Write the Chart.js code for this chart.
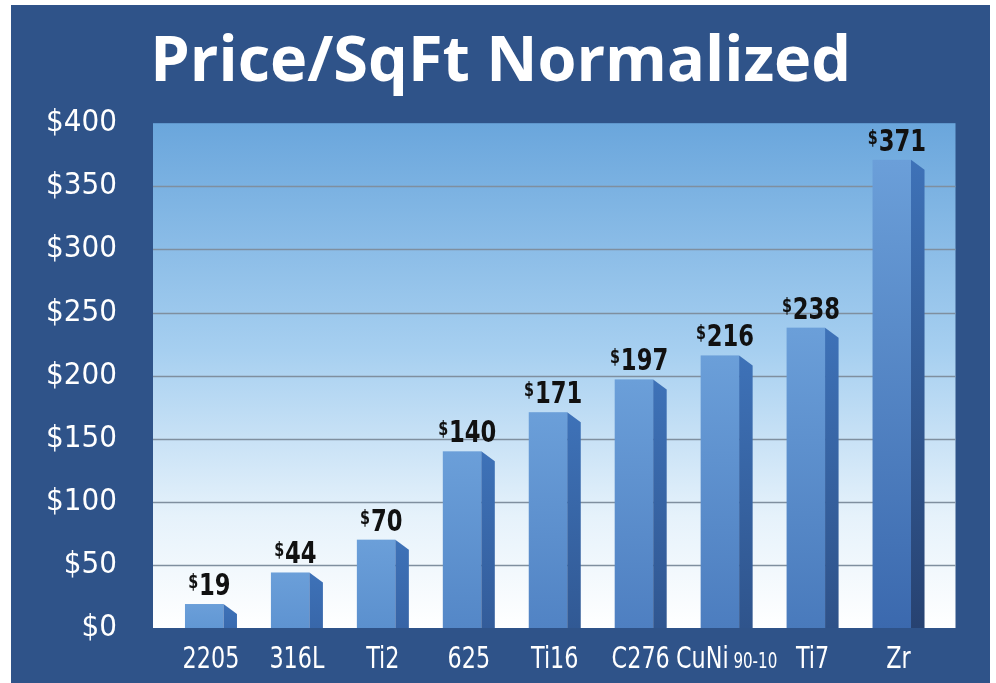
<!DOCTYPE html>
<html>
<head>
<meta charset="utf-8">
<script src="https://cdn.jsdelivr.net/npm/chart.js@4.4.0/dist/chart.umd.min.js"></script>
<style>
  html, body { margin: 0; padding: 0; background: #ffffff; }
</style>
</head>
<body>
<canvas id="priceChart" width="996" height="683"></canvas>
<script>
var materials = ["2205", "316L", "Ti2", "625", "Ti16", "C276", "CuNi 90-10", "Ti7", "Zr"];
var pricePerSqFt = [19, 44, 70, 140, 171, 197, 216, 238, 371];
var yTicks = [0, 50, 100, 150, 200, 250, 300, 350, 400];

var NARROW = "'Liberation Sans Narrow', 'DejaVu Sans Condensed', sans-serif";

function mix(a, b, t) {
  var c = a.map(function (v, i) { return Math.round(v + (b[i] - v) * t); });
  return "rgb(" + c.join(",") + ")";
}

// dark blue frame + light blue plot panel with grid lines
var backdrop = {
  id: "backdrop",
  afterLayout: function (chart) {
    // keep the title centred on the frame, not on the padded box
    var tb = chart.titleBlock;
    tb.left = 60;
    tb.width = tb.right - tb.left;
  },
  beforeDraw: function (chart) {
    var ctx = chart.ctx, area = chart.chartArea, y = chart.scales.y;
    ctx.save();
    ctx.fillStyle = "#ffffff";
    ctx.fillRect(0, 0, chart.width, chart.height);
    ctx.fillStyle = "#2f5389";
    ctx.fillRect(11, 5, 979, chart.height - 5);

    var left = area.left - 15, right = area.right + 14;
    var g = ctx.createLinearGradient(0, area.top, 0, area.bottom);
    g.addColorStop(0, "#6aa6dc");
    g.addColorStop(0.45, "#a6cff0");
    g.addColorStop(0.78, "#e6f2fb");
    g.addColorStop(1, "#ffffff");
    ctx.fillStyle = g;
    ctx.fillRect(left, area.top, right - left, area.bottom - area.top);

    ctx.strokeStyle = "#7f8f9f";
    ctx.lineWidth = 1.5;
    yTicks.forEach(function (v) {
      if (v === 0 || v === 400) return;
      var py = Math.round(y.getPixelForValue(v)) + 0.5;
      ctx.beginPath();
      ctx.moveTo(left, py);
      ctx.lineTo(right, py);
      ctx.stroke();
    });
    ctx.restore();
  }
};

// 3D-looking bars, value labels and category labels
var bars3d = {
  id: "bars3d",
  afterDatasetsDraw: function (chart) {
    var ctx = chart.ctx, area = chart.chartArea;
    var meta = chart.getDatasetMeta(0);
    ctx.save();
    meta.data.forEach(function (el, i) {
      var w = el.width, left = el.x - w / 2;
      var front = w * 0.74, fr = left + front, sr = left + w;
      var top = el.y, base = el.base;
      var t = (base - top) / (area.bottom - area.top);

      var gf = ctx.createLinearGradient(0, top, 0, base);
      gf.addColorStop(0, "#6b9fd9");
      gf.addColorStop(1, mix([99, 153, 214], [56, 101, 171], t));
      ctx.fillStyle = gf;
      ctx.fillRect(left, top, front, base - top);

      var gs = ctx.createLinearGradient(0, top, 0, base);
      gs.addColorStop(0, "#3e72b8");
      gs.addColorStop(1, mix([58, 108, 178], [38, 63, 108], t));
      ctx.fillStyle = gs;
      ctx.beginPath();
      ctx.moveTo(fr, top);
      ctx.lineTo(sr, top + 10);
      ctx.lineTo(sr, base);
      ctx.lineTo(fr, base);
      ctx.closePath();
      ctx.fill();

      ctx.textBaseline = "alphabetic";
      ctx.textAlign = "left";

      // value label with small superscript dollar sign, condensed
      var num = String(pricePerSqFt[i]);
      var vs = 0.84;
      ctx.font = "bold 19px " + NARROW;
      var wd = ctx.measureText("$").width * vs;
      ctx.font = "bold 30px " + NARROW;
      var wn = ctx.measureText(num).width * vs;
      ctx.save();
      ctx.translate(el.x - (wd + wn) / 2 - 2, top - 9);
      ctx.scale(vs, 1);
      ctx.fillStyle = "#111111";
      ctx.fillText(num, wd / vs + 1, 0);
      ctx.font = "bold 19px " + NARROW;
      ctx.fillText("$", 0, -7);
      ctx.restore();

      // category label, squeezed horizontally to look condensed
      var parts = materials[i].split(" ");
      var sq = 0.8;
      ctx.font = "31px " + NARROW;
      var w1 = ctx.measureText(parts[0]).width * sq, w2 = 0;
      if (parts[1]) {
        ctx.font = "21px " + NARROW;
        w2 = ctx.measureText(" " + parts[1]).width * sq;
      }
      ctx.save();
      ctx.translate(el.x - (w1 + w2) / 2, area.bottom + 40);
      ctx.scale(sq, 1);
      ctx.fillStyle = "#ffffff";
      ctx.font = "31px " + NARROW;
      ctx.fillText(parts[0], 0, 0);
      if (parts[1]) {
        ctx.font = "21px " + NARROW;
        ctx.fillText(" " + parts[1], w1 / sq, 0);
      }
      ctx.restore();
    });
    ctx.restore();
  }
};

new Chart(document.getElementById("priceChart"), {
  type: "bar",
  data: {
    labels: materials,
    datasets: [
      {
        label: "Price/SqFt",
        data: pricePerSqFt,
        backgroundColor: "rgba(0,0,0,0)",
        barPercentage: 0.605,
        categoryPercentage: 1,
      },
    ],
  },
  options: {
    responsive: false,
    animation: false,
    layout: {
      padding: { left: 40, right: 54.5, top: 0, bottom: 0 },
    },
    plugins: {
      legend: { display: false },
      tooltip: { enabled: false },
      title: {
        display: true,
        text: "Price/SqFt Normalized",
        color: "#ffffff",
        font: { family: "'Open Sans', sans-serif", size: 63, weight: "bold", lineHeight: 1.2 },
        padding: { top: 25, bottom: 22.6 },
      },
    },
    scales: {
      x: {
        grid: { display: false },
        border: { display: false },
        ticks: { display: false },
        afterFit: function (scale) { scale.height = 55; },
      },
      y: {
        min: 0,
        max: 400,
        grid: { display: false, drawTicks: false },
        border: { display: false },
        afterFit: function (scale) { scale.width = 128; },
        afterBuildTicks: function (scale) {
          scale.ticks = yTicks.map(function (v) { return { value: v }; });
        },
        ticks: {
          color: "#ffffff",
          padding: 51,
          font: { family: NARROW, size: 31, lineHeight: 0.2 },
          callback: function (value) { return "$" + value; },
        },
      },
    },
  },
  plugins: [backdrop, bars3d],
});
</script>
</body>
</html>
